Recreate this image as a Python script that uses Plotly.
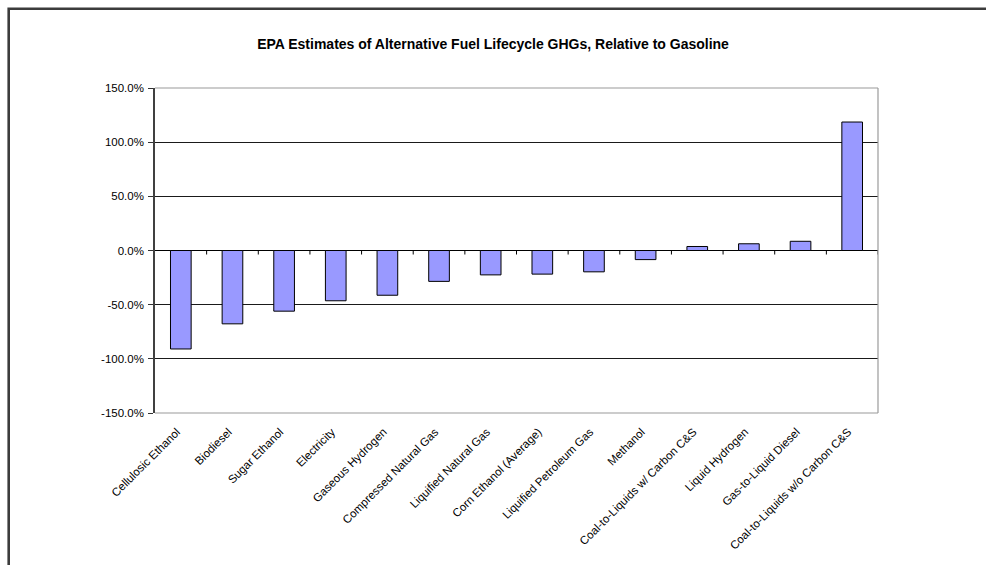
import plotly.graph_objects as go

# Fuel pathways and their lifecycle GHG change versus gasoline (fraction)
fuels = [
    "Cellulosic Ethanol",
    "Biodiesel",
    "Sugar Ethanol",
    "Electricity",
    "Gaseous Hydrogen",
    "Compressed Natural Gas",
    "Liquified Natural Gas",
    "Corn Ethanol (Average)",
    "Liquified Petroleum Gas",
    "Methanol",
    "Coal-to-Liquids w/ Carbon C&S",
    "Liquid Hydrogen",
    "Gas-to-Liquid Diesel",
    "Coal-to-Liquids w/o Carbon C&S",
]
ghg_change = [
    -0.909, -0.677, -0.560, -0.464, -0.413, -0.285, -0.225,
    -0.218, -0.197, -0.084, 0.037, 0.062, 0.085, 1.186,
]
y_ticks = [-1.5, -1.0, -0.5, 0.0, 0.5, 1.0, 1.5]
y_tick_text = ["-150.0%", "-100.0%", "-50.0%", "0.0%", "50.0%", "100.0%", "150.0%"]

W, H = 986, 565
ML, MR, MT, MB = 155, 108, 88, 152
PW, PH = W - ML - MR, H - MT - MB
FONT = "Liberation Sans, Arial, sans-serif"

fig = go.Figure(
    go.Bar(
        x=fuels,
        y=ghg_change,
        marker=dict(color="#9999FF", line=dict(color="#000000", width=1)),
        width=0.4,
        hoverinfo="x+y",
    )
)

shapes = []
# small tick marks on the zero line between categories
for i in range(len(fuels)):
    shapes.append(dict(
        type="line", xref="x", yref="y", ysizemode="pixel", yanchor=0,
        x0=i + 0.5, x1=i + 0.5, y0=0, y1=-4,
        line=dict(color="#000000", width=1), layer="above",
    ))
# plot area frame (top, right, bottom)
frame = "#9a9a9a"
shapes += [
    dict(type="line", xref="x domain", yref="y domain", x0=0, x1=1, y0=1, y1=1,
         line=dict(color=frame, width=1.2), layer="above"),
    dict(type="line", xref="x domain", yref="y domain", x0=1, x1=1, y0=0, y1=1,
         line=dict(color=frame, width=1.2), layer="above"),
    dict(type="line", xref="x domain", yref="y domain", x0=0, x1=1, y0=0, y1=0,
         line=dict(color=frame, width=1.2), layer="above"),
]
# chart border (left and top edges visible)
bx = (8.7 - ML) / PW
by = 1 + (MT - 8.7) / PH
shapes.append(dict(
    type="rect", xref="paper", yref="paper",
    x0=bx, x1=1 + (MR + 20) / PW, y0=-(MB + 20) / PH, y1=by,
    line=dict(color="#3c3c3c", width=2.6), layer="above",
))

fig.update_layout(
    width=W, height=H,
    margin=dict(l=ML, r=MR, t=MT, b=MB),
    paper_bgcolor="white", plot_bgcolor="white",
    font=dict(family=FONT, color="#000000", size=11.5),
    title=dict(
        text="<b>EPA Estimates of Alternative Fuel Lifecycle GHGs, Relative to Gasoline</b>",
        font=dict(family=FONT, size=14, color="#000000"),
        x=0.5, xref="container", xanchor="center",
        y=1 - 44 / H, yref="container", yanchor="middle",
    ),
    bargap=0.6,
    showlegend=False,
    shapes=shapes,
    xaxis=dict(
        type="category",
        range=[-0.5, len(fuels) - 0.5],
        tickangle=-45,
        ticks="",
        showline=False,
        showgrid=False,
        ticklabelstandoff=9,
        ticklabelshift=-4,
        tickfont=dict(family=FONT, size=11.5, color="#000000"),
    ),
    yaxis=dict(
        range=[-1.5, 1.5],
        tickvals=y_ticks,
        ticktext=y_tick_text,
        ticks="outside",
        ticklen=5,
        tickcolor="#333333",
        ticklabelstandoff=2,
        showline=True,
        linecolor="#404040",
        linewidth=1.6,
        showgrid=True,
        gridcolor="#1a1a1a",
        gridwidth=1,
        zeroline=True,
        zerolinecolor="#000000",
        zerolinewidth=1.2,
        tickfont=dict(family=FONT, size=11.5, color="#000000"),
    ),
)

fig.write_html("out.html")
